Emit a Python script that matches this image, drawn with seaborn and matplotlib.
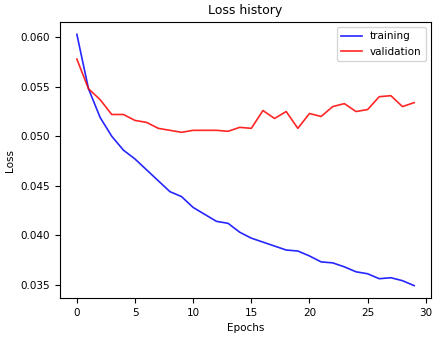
import matplotlib
matplotlib.use("Agg")
import matplotlib.pyplot as plt
import seaborn as sns
import pandas as pd
import numpy as np

epochs = list(range(30))
training = [0.0603, 0.0548, 0.0519, 0.0500, 0.0486, 0.0477, 0.0466, 0.0455, 0.0444, 0.0439,
            0.0428, 0.0421, 0.0414, 0.0412, 0.0403, 0.0397, 0.0393, 0.0389, 0.0385, 0.0384,
            0.0379, 0.0373, 0.0372, 0.0368, 0.0363, 0.0361, 0.0356, 0.0357, 0.0354, 0.0349]
validation = [0.0578, 0.0548, 0.0537, 0.0522, 0.0522, 0.0516, 0.0514, 0.0508, 0.0506, 0.0504,
              0.0506, 0.0506, 0.0506, 0.0505, 0.0509, 0.0508, 0.0526, 0.0518, 0.0525, 0.0508,
              0.0523, 0.0520, 0.0530, 0.0533, 0.0525, 0.0527, 0.0540, 0.0541, 0.0530, 0.0534]

df = pd.DataFrame({"Epochs": epochs + epochs,
                   "Loss": training + validation,
                   "set": ["training"] * 30 + ["validation"] * 30})

plt.rcParams.update({"font.size": 7.5})
fig = plt.figure(figsize=(4.43, 3.42), dpi=100)
ax = fig.add_axes([60 / 443, 1 - 298 / 342, (431 - 60) / 443, (298 - 22) / 342])
sns.lineplot(data=df, x="Epochs", y="Loss", hue="set",
             palette={"training": "blue", "validation": "red"},
             ax=ax, linewidth=1.2, alpha=0.85)
ax.set_title("Loss history", fontsize=9)
ax.set_xlabel("Epochs", fontsize=7.5)
ax.set_ylabel("Loss", fontsize=7.5)
ax.tick_params(labelsize=7.5)
ax.set_xticks([0, 5, 10, 15, 20, 25, 30])
ax.set_yticks([0.035, 0.040, 0.045, 0.050, 0.055, 0.060])
ax.yaxis.set_major_formatter(matplotlib.ticker.FormatStrFormatter("%.3f"))
ax.set_xlim(-1.45, 30.45)
ax.set_ylim(0.03365, 0.06155)
leg = ax.legend(loc="upper right", fontsize=7.5)
leg.set_title(None)
fig.savefig("out.png", dpi=100)
